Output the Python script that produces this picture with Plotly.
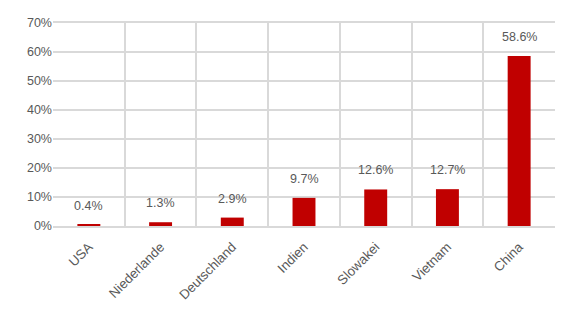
import plotly.graph_objects as go

categories = ["USA", "Niederlande", "Deutschland", "Indien", "Slowakei", "Vietnam", "China"]
values = [0.4, 1.3, 2.9, 9.7, 12.6, 12.7, 58.6]
labels = ["0.4%", "1.3%", "2.9%", "9.7%", "12.6%", "12.7%", "58.6%"]

font_family = "Liberation Sans, Arial, sans-serif"
txt_color = "#595959"
grid = "#d9d9d9"

fig = go.Figure()
fig.add_trace(go.Bar(x=categories, y=values, marker=dict(color="#C00000", line=dict(width=0)),
                     width=0.32, hoverinfo="skip"))

for c, v, t in zip(categories, values, labels):
    fig.add_annotation(x=c, y=v, text=t, showarrow=False, yanchor="bottom", yshift=10,
                       font=dict(family=font_family, size=12.5, color=txt_color))

fig.update_layout(
    width=578, height=315,
    margin=dict(l=53, r=23, t=23, b=89),
    plot_bgcolor="white", paper_bgcolor="white",
    showlegend=False,
    font=dict(family=font_family, size=12, color=txt_color),
    bargap=0.68,
)
fig.update_xaxes(tickangle=-45, tickson="boundaries", showgrid=True, gridcolor=grid, gridwidth=2,
                 showline=True, linecolor=grid, linewidth=2, mirror=True, ticks="",
                 ticklabelstandoff=6,
                 tickfont=dict(family=font_family, size=13.3, color=txt_color))
fig.update_yaxes(range=[0, 70], dtick=10, ticksuffix="%", showgrid=True, gridcolor=grid, gridwidth=2,
                 zeroline=False, showline=False, ticks="",
                 tickfont=dict(family=font_family, size=12.5, color=txt_color))

fig.write_html("out.html")
